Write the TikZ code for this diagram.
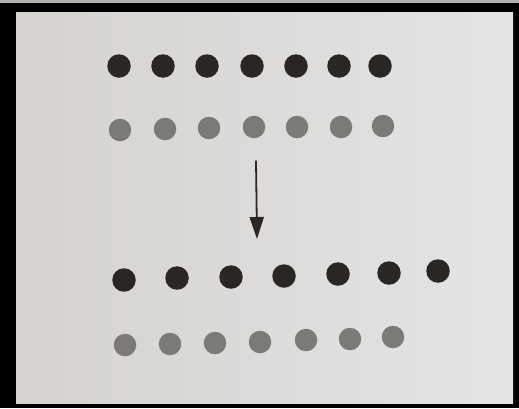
\documentclass[tikz,border=0pt]{standalone}
\usepackage{xcolor}
\usepackage{tikz}
\usetikzlibrary{arrows.meta}
\definecolor{paperl}{HTML}{D6D3CE}
\definecolor{paperr}{HTML}{E3E4E6}
\definecolor{inkdark}{HTML}{2A2623}
\definecolor{inkgrey}{HTML}{7B7A77}
\begin{document}
\begin{tikzpicture}[x=1pt,y=-1pt,line cap=round,
	dotdark/.style={circle,fill=inkdark,inner sep=0pt,minimum size=23.5pt},
	dotgrey/.style={circle,fill=inkgrey,inner sep=0pt,minimum size=22.5pt}]
			\useasboundingbox (0,0) rectangle (519,408);
			\fill[black] (0,0) rectangle (519,408);
			\fill[gray!60] (0,0) rectangle (519,3);
			\shade[left color=paperl,right color=paperr] (16,12) rectangle (513,403);
			% before
			\foreach \n/\x in {1/119,2/163,3/207,4/252,5/296,6/339,7/380}
				\node[dotdark] (a\n) at (\x,66) {};
			\foreach \n/\x/\y in {1/120/130,2/165/129,3/209/128,4/254/127,5/297/127,6/341/127,7/383/126}
				\node[dotgrey] (b\n) at (\x,\y) {};
			% after
			\foreach \n/\x/\y in {1/124/280,2/177/278,3/231/277,4/284/276,5/338/274,6/389/273,7/438/271}
				\node[dotdark] (c\n) at (\x,\y) {};
			\foreach \n/\x/\y in {1/125/345,2/170/344,3/215/343,4/260/342,5/306/340,6/350/339,7/393/337}
				\node[dotgrey] (d\n) at (\x,\y) {};
			\coordinate (from) at (256,161);
			\coordinate (to) at (257,239);
			\draw[line width=1.8pt,inkdark,-{Triangle[length=22pt,width=14pt]}] (from) -- (to);
	\end{tikzpicture}
\end{document}
